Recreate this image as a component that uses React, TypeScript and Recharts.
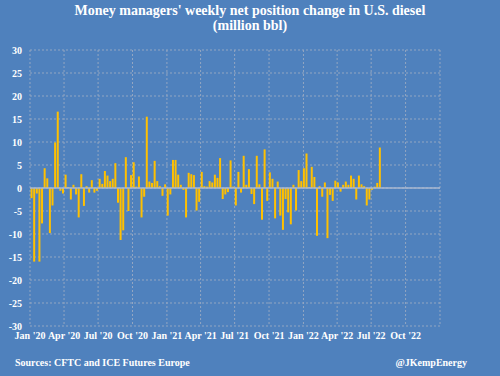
import React from "react";
import { BarChart, Bar, XAxis, YAxis, CartesianGrid, ReferenceLine } from "recharts";

// Weekly change in money managers' net position, million bbl (from Jan 7, 2020)
const weeklyChange = [
  -2.2, -16, -1.2, -16, -7.7, 4.3, 2.1, -9.8, -3.8, 9.9, 16.6, -0.6, -1.2, 2.9, 0.2, -2.5, 0.7, -1.4, -6.4, 3.0, -3.9, 0.4, -1.0,
  1.7, -1.0, -0.6, 2.0, 0.9, 3.7, 2.7, 1.5, 2.0, 5.4, -3.2, -11.3, -9.2, 6.7, -5.0, 2.8, 5.6, 0.3, 2.5, -6.4, -1.9, 15.5,
  1.4, 1.1, 5.9, 1.5, 0.4, -1.7, 0.8, -6.0, -1.4, 6.1, 6.1, 2.9, 0.7, -0.4, -6.4, 3.3, 3.0, 2.8, -4.9, -3.0, 3.5, 0.4, 0.3,
  1.5, 1.2, 2.9, 2.2, 6.5, -2.4, -1.4, -0.9, 6.0, 0.3, -3.8, 3.5, -1.0, 7.0, 0.7, 4.1, -1.3, -3.5, 7.0, 0.8, -6.9, 8.4, -2.8,
  3.4, 2.0, -6.6, 1.4, -6.0, -9.1, -2.4, -5.3, -7.9, 0.7, -4.9, 3.9, 1.5, 4.3, 7.5, 0.2, 4.6, 2.4, -10.4, 0.4, -1.9, 1.2, -10.9,
  -1.5, -2.8, 1.6, 1.2, -0.8, 0.7, 1.4, 0.7, 2.7, 2.0, -2.5, 2.7, 0.8, 0.4, -3.8, -2.5, -0.4, 0.3, 1.1, 8.8,
];

// quarter starts, in days since Jan 1, 2020
const quarterDays = [0, 91, 182, 274, 366, 456, 547, 639, 731, 821, 912, 1004];
const quarterLabels = [
  "Jan '20", "Apr '20", "Jul '20", "Oct '20", "Jan '21", "Apr '21",
  "Jul '21", "Oct '21", "Jan '22", "Apr '22", "Jul '22", "Oct '22",
];
const yTicks = [-30, -25, -20, -15, -10, -5, 0, 5, 10, 15, 20, 25, 30];

const FIRST_DAY = 5; // first report, days after Jan 1, 2020
const END_DAY = 1096;

const chartData = weeklyChange.map((v, i) => ({ day: FIRST_DAY + i * 7, value: v }));

const BG = "#4f81bd";
const FONT = "'Liberation Serif', 'Times New Roman', serif";

export default function App() {
  return (
    <div
      style={{
        position: "absolute",
        left: 0,
        top: 0,
        width: 500,
        height: 376,
        background: BG,
        fontFamily: FONT,
        color: "#fff",
        overflow: "hidden",
      }}
    >
      <div
        style={{
          position: "absolute",
          top: 3,
          left: 0,
          width: 500,
          textAlign: "center",
          fontWeight: "bold",
          fontSize: 14,
          lineHeight: "15px",
        }}
      >
        <div>Money managers' weekly net position change in U.S. diesel</div>
        <div>(million bbl)</div>
      </div>
      <BarChart
        width={500}
        height={376}
        data={chartData}
        margin={{ top: 50, right: 60, bottom: 30, left: 0 }}
      >
        <CartesianGrid stroke="#93a6c2" strokeDasharray="2 2" strokeWidth={1} />
        <XAxis
          dataKey="day"
          type="number"
          domain={[0, END_DAY]}
          ticks={quarterDays}
          tickFormatter={(d: number) => quarterLabels[quarterDays.indexOf(d)]}
          axisLine={false}
          tickLine={false}
          tickSize={0}
          tickMargin={6}
          height={20}
          interval={0}
          tick={{ fill: "#fff", fontSize: 10, fontWeight: "bold", fontFamily: FONT }}
        />
        <YAxis
          type="number"
          domain={[-30, 30]}
          ticks={yTicks}
          axisLine={false}
          tickLine={false}
          tickSize={0}
          tickMargin={8}
          width={30}
          interval={0}
          tick={{ fill: "#fff", fontSize: 10, fontWeight: "bold", fontFamily: FONT }}
        />
        <ReferenceLine y={0} stroke="#a9b9d2" strokeWidth={1.5} />
        <Bar dataKey="value" fill="#ffc000" barSize={2} isAnimationActive={false} />
      </BarChart>
      <div
        style={{
          position: "absolute",
          left: 15,
          top: 357,
          fontSize: 10,
          fontWeight: "bold",
        }}
      >
        Sources: CFTC and ICE Futures Europe
      </div>
      <div
        style={{
          position: "absolute",
          right: 33,
          top: 357,
          fontSize: 10,
          fontWeight: "bold",
        }}
      >
        @JKempEnergy
      </div>
    </div>
  );
}
